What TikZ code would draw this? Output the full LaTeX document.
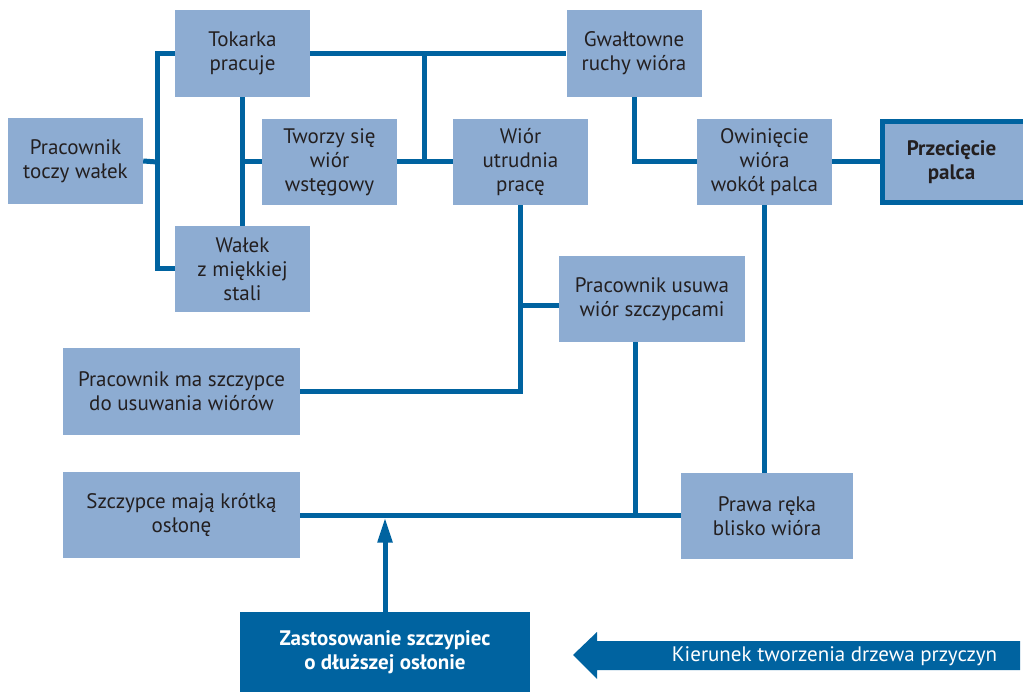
\documentclass[tikz,border=0pt]{standalone}
\usepackage{fontspec}
\setmainfont{PT Sans}
\usetikzlibrary{arrows.meta}
\definecolor{boxfill}{HTML}{8DACD2}
\definecolor{lineblue}{HTML}{0063A0}
\definecolor{txt}{HTML}{231F20}
\begin{document}
\begin{tikzpicture}[x=1pt,y=-1pt,
  box/.style={rectangle,fill=boxfill,inner sep=0pt,align=center,text=txt,
    font=\fontsize{21}{24}\selectfont},
  conn/.style={draw=lineblue,line width=5pt},
]
\useasboundingbox (0,0) rectangle (1023,692);
% boxes
\node[box,minimum width=135,minimum height=86] (pt) at (75.5,161) {Pracownik\\toczy wałek};
\node[box,minimum width=135,minimum height=87] (tok) at (242.5,53.5) {Tokarka\\pracuje};
\node[box,minimum width=135,minimum height=86] (tw) at (329.5,162) {Tworzy się\\wiór\\wstęgowy};
\node[box,minimum width=135,minimum height=86] (wal) at (242.5,269) {Wałek\\z miękkiej\\stali};
\node[box,minimum width=135,minimum height=86] (wior) at (520.5,162) {Wiór\\utrudnia\\pracę};
\node[box,minimum width=135,minimum height=87] (gw) at (634,53.5) {Gwałtowne\\ruchy wióra};
\node[box,minimum width=135,minimum height=86] (ow) at (764.5,162) {Owinięcie\\wióra\\wokół palca};
\node[box,minimum width=143,minimum height=86,font=\fontsize{21}{24}\selectfont\bfseries] (prz) at (951.5,162) {Przecięcie\\palca};
\node[box,minimum width=186,minimum height=86] (pus) at (652,299) {Pracownik usuwa\\wiór szczypcami};
\node[box,minimum width=237,minimum height=87] (pms) at (181.5,391.5) {Pracownik ma szczypce\\do usuwania wiórów};
\node[box,minimum width=237,minimum height=86] (szk) at (181.5,515) {Szczypce mają krótką\\osłonę};
\node[box,minimum width=172,minimum height=86] (pr) at (767,516) {Prawa ręka\\blisko wióra};
\node[box,fill=lineblue,text=white,minimum width=290,minimum height=80,font=\fontsize{21}{24}\selectfont\bfseries] (zas) at (385,652) {Zastosowanie szczypiec\\o dłuższej osłonie};
% thick border of Przecięcie palca (open at the page edge)
\draw[draw=lineblue,line width=5pt] (prz.north east) ++(0,2.5) -- ([shift={(2.5,2.5)}]prz.north west) -- ([shift={(2.5,-2.5)}]prz.south west) -- ([yshift=2.5pt]prz.south east);
% junctions
\coordinate (j1) at (157,162);
\coordinate (j2) at (424.5,162);
% connectors
\draw[conn] (pt.east) -- (j1);
\draw[conn] (tok.west) -- (tok.west -| j1) -- (wal.west -| j1) -- (wal.west);
\draw[conn] (tok.south) -- (wal.north);
\draw[conn] (tok.south |- tw.west) -- (tw.west);
\draw[conn] (tok.east) -- (gw.west);
\draw[conn] (tok.east -| j2) -- (j2);
\draw[conn] (tw.east) -- (wior.west);
\draw[conn] (gw.south) |- (ow.west);
\draw[conn] (ow.east) -- (prz.west);
\draw[conn] (wior.south) |- (pms.east);
\draw[conn] (wior.south |- 0,306) -- (pus.west |- 0,306);
\draw[conn] (szk.east) -- (szk.east -| pr.west);
\draw[conn] (635,0 |- pus.south) -- (635,515);
\draw[conn] (ow.south) -- (ow.south |- pr.north);
\draw[conn,-{Triangle[length=25pt,width=14pt]},shorten >=2.5pt] (zas.north) -- (zas.north |- 0,515);
% direction arrow
\fill[lineblue] (573,655) coordinate (tip) -- (597,632) -- (597,641) -- (1020,641) -- (1020,670) -- (597,670) -- (597,679) -- cycle;
\node[text=white,font=\fontsize{21}{24}\selectfont,inner sep=0pt] (dir) at (834.5,656) {Kierunek tworzenia drzewa przyczyn};
\end{tikzpicture}
\end{document}
